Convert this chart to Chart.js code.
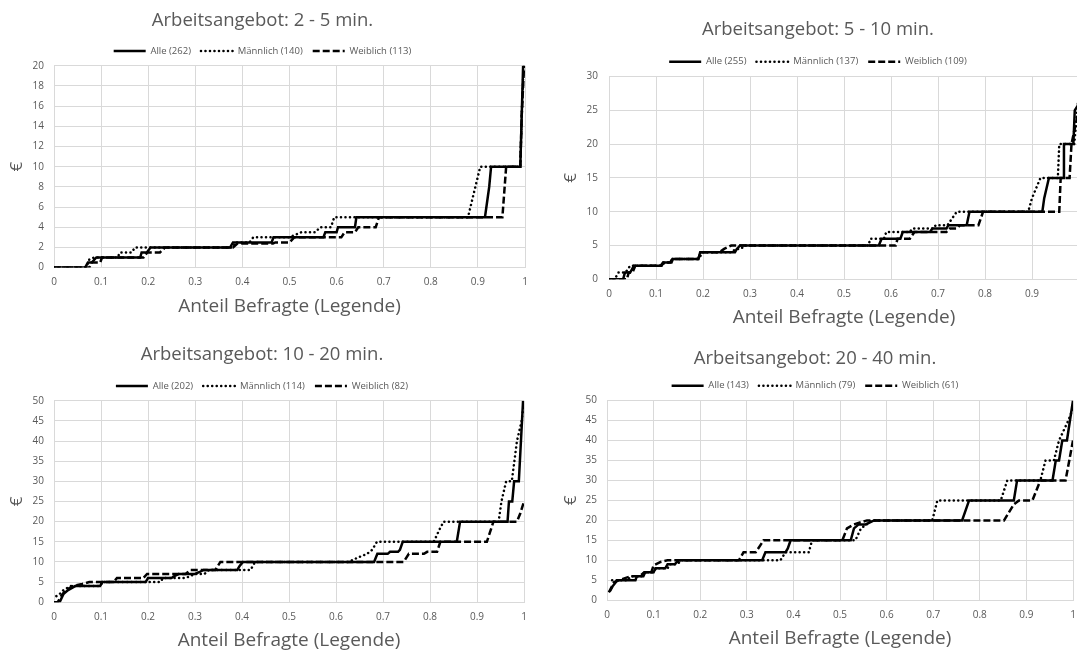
<!DOCTYPE html>
<html lang="de">
<head>
<meta charset="utf-8">
<title>Arbeitsangebot</title>
<script src="https://cdn.jsdelivr.net/npm/chart.js@4.4.0/dist/chart.umd.min.js"></script>
<style>
  html, body { margin: 0; padding: 0; background: #fff; }
  #wrap { position: relative; width: 1077px; height: 651px; overflow: hidden; background: #fff; }
  #wrap canvas { position: absolute; }
</style>
</head>
<body>
<div id="wrap">
  <canvas id="c1" width="540" height="318" style="left:0px;top:0px"></canvas>
  <canvas id="c2" width="540" height="329" style="left:557px;top:0px"></canvas>
  <canvas id="c3" width="540" height="322" style="left:0px;top:330px"></canvas>
  <canvas id="c4" width="540" height="320" style="left:557px;top:330px"></canvas>
</div>
<script>
// Serien-Namen und Stichprobengrößen
const seriesNames = ['Alle', 'Männlich', 'Weiblich'];
const p1Counts = [262, 140, 113];
const p2Counts = [255, 137, 109];
const p3Counts = [202, 114, 82];
const p4Counts = [143, 79, 61];

const panelTitles = [
    'Arbeitsangebot: 2 - 5 min.',
    'Arbeitsangebot: 5 - 10 min.',
    'Arbeitsangebot: 10 - 20 min.',
    'Arbeitsangebot: 20 - 40 min.'
];
const yMaxes = [20, 30, 50, 50];
const ySteps = [2, 5, 5, 5];

// 2 - 5 min.
const p1AlleX = [0, 0.066, 0.072, 0.08, 0.09, 0.183, 0.186, 0.197, 0.205, 0.374, 0.38, 0.462, 0.466, 0.572, 0.576, 0.6, 0.603, 0.639, 0.642, 0.915, 0.921, 0.924, 0.928, 0.99, 0.993, 0.996];
const p1AlleY = [0, 0, 0.5, 0.5, 1, 1, 1.5, 1.5, 2, 2, 2.5, 2.5, 3, 3, 3.5, 3.5, 4, 4, 5, 5, 7, 8, 10, 10, 15, 20];
const p1MaennX = [0, 0.068, 0.075, 0.085, 0.135, 0.14, 0.165, 0.172, 0.38, 0.385, 0.415, 0.423, 0.5, 0.525, 0.555, 0.565, 0.588, 0.595, 0.879, 0.905, 0.99, 0.993, 0.997];
const p1MaennY = [0, 0, 0.8, 1, 1, 1.5, 1.5, 2, 2, 2.5, 2.5, 3, 3, 3.5, 3.5, 4, 4, 5, 5, 10, 10, 15, 20];
const p1WeibX = [0, 0.075, 0.08, 0.098, 0.102, 0.19, 0.198, 0.225, 0.236, 0.38, 0.39, 0.465, 0.47, 0.5, 0.51, 0.61, 0.617, 0.639, 0.646, 0.683, 0.69, 0.952, 0.96, 0.99, 0.993, 0.998];
const p1WeibY = [0, 0, 0.5, 0.5, 1, 1, 1.5, 1.5, 2, 2, 2.4, 2.4, 2.5, 2.5, 3, 3, 3.5, 3.5, 4, 4, 5, 5, 10, 10, 15, 20];

// 5 - 10 min.
const p2AlleX = [0, 0.03, 0.034, 0.045, 0.053, 0.112, 0.116, 0.133, 0.136, 0.19, 0.194, 0.268, 0.272, 0.279, 0.574, 0.58, 0.62, 0.625, 0.683, 0.688, 0.718, 0.722, 0.761, 0.767, 0.922, 0.926, 0.936, 0.966, 0.968, 0.988, 0.991, 1];
const p2AlleY = [0, 0, 1, 1, 2, 2, 2.5, 2.5, 3, 3, 4, 4, 4.5, 5, 5, 6, 6, 7, 7, 7.5, 7.5, 8, 8, 10, 10, 12, 15, 15, 20, 20, 25, 26];
const p2MaennX = [0, 0.012, 0.02, 0.035, 0.045, 0.11, 0.12, 0.13, 0.135, 0.19, 0.2, 0.26, 0.27, 0.28, 0.29, 0.552, 0.556, 0.585, 0.59, 0.64, 0.645, 0.69, 0.695, 0.72, 0.74, 0.892, 0.9, 0.918, 0.955, 0.958, 0.99, 1];
const p2MaennY = [0, 0, 1, 1, 2, 2, 2.5, 2.5, 3, 3, 4, 4, 4.5, 4.5, 5, 5, 6, 6, 7, 7, 7.5, 7.5, 8, 8, 10, 10, 12, 15, 15, 20, 20, 28];
const p2WeibX = [0, 0.038, 0.042, 0.05, 0.056, 0.11, 0.115, 0.13, 0.135, 0.19, 0.195, 0.235, 0.245, 0.26, 0.61, 0.614, 0.64, 0.65, 0.718, 0.725, 0.74, 0.747, 0.786, 0.796, 0.958, 0.961, 0.98, 0.984, 0.99, 1];
const p2WeibY = [0, 0, 1, 1, 2, 2, 2.5, 2.5, 3, 3, 4, 4, 4.5, 5, 5, 6, 6, 7, 7, 7.5, 7.5, 8, 8, 10, 10, 15, 15, 20, 22, 25];

// 10 - 20 min.
const p3AlleX = [0, 0.012, 0.02, 0.03, 0.045, 0.098, 0.103, 0.195, 0.2, 0.25, 0.256, 0.265, 0.3, 0.31, 0.318, 0.39, 0.395, 0.402, 0.681, 0.688, 0.71, 0.715, 0.732, 0.736, 0.742, 0.857, 0.864, 0.965, 0.968, 0.975, 0.979, 0.989, 0.998];
const p3AlleY = [0, 0, 2, 3, 4, 4, 5, 5, 6, 6, 6.5, 7, 7, 7.5, 8, 8, 9, 10, 10, 12, 12, 12.5, 12.5, 13, 15, 15, 20, 20, 25, 25, 30, 30, 50];
const p3MaennX = [0.005, 0.012, 0.02, 0.035, 0.098, 0.103, 0.226, 0.232, 0.28, 0.29, 0.3, 0.32, 0.33, 0.418, 0.428, 0.627, 0.645, 0.666, 0.677, 0.687, 0.808, 0.82, 0.829, 0.946, 0.952, 0.962, 0.974, 0.985, 0.995, 1];
const p3MaennY = [1.5, 2, 3, 4, 4, 5, 5, 6, 6, 6.5, 7, 7, 8, 8, 10, 10, 11, 12, 13, 15, 15, 18, 20, 20, 25, 30, 30, 40, 45, 50];
const p3WeibX = [0, 0.008, 0.015, 0.025, 0.04, 0.06, 0.075, 0.127, 0.134, 0.19, 0.198, 0.28, 0.29, 0.343, 0.354, 0.744, 0.755, 0.787, 0.794, 0.815, 0.822, 0.921, 0.935, 0.985, 0.992, 1];
const p3WeibY = [0, 0, 1.5, 3, 4, 4.5, 5, 5, 6, 6, 7, 7, 8, 8, 10, 10, 12, 12, 12.5, 12.5, 15, 15, 20, 20, 22, 25];

// 20 - 40 min.
const p4AlleX = [0.006, 0.012, 0.018, 0.022, 0.061, 0.064, 0.078, 0.082, 0.1, 0.104, 0.125, 0.13, 0.145, 0.154, 0.333, 0.34, 0.383, 0.388, 0.394, 0.523, 0.53, 0.54, 0.555, 0.573, 0.762, 0.777, 0.873, 0.88, 0.956, 0.963, 0.97, 0.977, 0.987, 1];
const p4AlleY = [2.2, 3.5, 4.4, 5, 5, 6, 6, 7, 7, 8, 8, 9, 9, 10, 10, 12, 12, 13, 15, 15, 18, 19, 19, 20, 20, 25, 25, 30, 30, 35, 35, 40, 40, 50];
const p4MaennX = [0.011, 0.045, 0.05, 0.075, 0.08, 0.1, 0.105, 0.13, 0.135, 0.15, 0.16, 0.372, 0.383, 0.433, 0.44, 0.533, 0.545, 0.569, 0.698, 0.709, 0.845, 0.859, 0.93, 0.941, 0.959, 0.97, 0.99, 1];
const p4MaennY = [5, 5, 6, 6, 7, 7, 8, 8, 9, 9, 10, 10, 12, 12, 15, 15, 18, 20, 20, 25, 25, 30, 30, 35, 35, 40, 45, 48];
const p4WeibX = [0.004, 0.015, 0.025, 0.05, 0.07, 0.08, 0.095, 0.1, 0.115, 0.13, 0.283, 0.293, 0.319, 0.336, 0.505, 0.515, 0.53, 0.558, 0.852, 0.873, 0.884, 0.913, 0.93, 0.984, 0.992, 1];
const p4WeibY = [2, 4.5, 5, 6, 6, 7, 7, 8.7, 9.6, 10, 10, 12, 12, 15, 15, 18, 19, 20, 20, 24, 25, 25, 30, 30, 35, 40];

const textColor = '#595959';
const gridColor = '#d9d9d9';
Chart.defaults.font.family = "'Open Sans', sans-serif";
Chart.defaults.color = textColor;

// Linienstile: durchgezogen, gepunktet, gestrichelt
const lineStyles = [
    { borderDash: [], borderCapStyle: 'butt' },
    { borderDash: [0.1, 4.4], borderCapStyle: 'round' },
    { borderDash: [7, 3], borderCapStyle: 'butt' }
];

function toPoints(xs, ys) {
    return xs.map((x, i) => ({ x: x, y: ys[i] }));
}

// Layout je Diagramm (Abstände in Pixeln)
const layouts = [
    { titleTop: 9.9, titleBottom: 4.2, yWidth: 54, xHeight: 50.4, rightPad: 15, yTitlePad: 8, yTickPad: 10 },
    { titleTop: 18.9, titleBottom: 5.9, yWidth: 52, xHeight: 49.7, rightPad: 18, yTitlePad: 5, yTickPad: 11 },
    { titleTop: 13.9, titleBottom: 5.2, yWidth: 54, xHeight: 49.8, rightPad: 16, yTitlePad: 8, yTickPad: 10 },
    { titleTop: 17.2, titleBottom: 1.6, yWidth: 50, xHeight: 49.7, rightPad: 24, yTitlePad: 5, yTickPad: 10 }
];

function makePanel(canvasId, index, counts, series) {
    const lay = layouts[index];
    const datasets = series.map((s, i) => ({
        label: seriesNames[i] + ' (' + counts[i] + ')',
        data: toPoints(s[0], s[1]),
        borderColor: '#000',
        backgroundColor: '#000',
        borderWidth: 2.5,
        borderDash: lineStyles[i].borderDash,
        borderCapStyle: lineStyles[i].borderCapStyle,
        borderJoinStyle: 'miter',
        pointRadius: 0,
        tension: 0,
        fill: false
    }));

    new Chart(document.getElementById(canvasId).getContext('2d'), {
        type: 'line',
        data: { datasets: datasets },
        options: {
            responsive: false,
            animation: false,
            devicePixelRatio: 1,
            layout: { padding: { left: 0, right: lay.rightPad, top: 0, bottom: 0 } },
            plugins: {
                title: {
                    display: true,
                    text: panelTitles[index],
                    color: textColor,
                    font: { size: 18.5, weight: 'normal' },
                    padding: { top: lay.titleTop, bottom: lay.titleBottom }
                },
                legend: {
                    position: 'top',
                    labels: {
                        usePointStyle: true,
                        pointStyleWidth: 32,
                        padding: 10,
                        color: textColor,
                        font: { size: 9.5 },
                        generateLabels: function(chart) {
                            return chart.data.datasets.map((ds, i) => ({
                                text: ds.label,
                                fillStyle: 'rgba(0,0,0,0)',
                                strokeStyle: ds.borderColor,
                                lineWidth: ds.borderWidth,
                                lineDash: ds.borderDash,
                                lineCap: ds.borderCapStyle,
                                pointStyle: 'line',
                                fontColor: textColor,
                                hidden: false,
                                datasetIndex: i
                            }));
                        }
                    }
                },
                tooltip: { enabled: false }
            },
            scales: {
                x: {
                    type: 'linear',
                    min: 0,
                    max: 1,
                    grid: { color: gridColor, drawTicks: false },
                    border: { color: gridColor },
                    ticks: {
                        stepSize: 0.1,
                        autoSkip: false,
                        maxRotation: 0,
                        padding: 9,
                        color: textColor,
                        font: { size: 10 },
                        callback: v => String(Math.round(v * 10) / 10)
                    },
                    title: {
                        display: true,
                        text: 'Anteil Befragte (Legende)',
                        color: textColor,
                        font: { size: 19 },
                        padding: 0
                    },
                    afterFit: scale => { scale.height = lay.xHeight; }
                },
                y: {
                    min: 0,
                    max: yMaxes[index],
                    grid: { color: gridColor, drawTicks: false },
                    border: { color: gridColor },
                    ticks: {
                        stepSize: ySteps[index],
                        padding: lay.yTickPad,
                        color: textColor,
                        font: { size: 10 }
                    },
                    title: {
                        display: true,
                        text: '€',
                        color: textColor,
                        font: { size: 17 },
                        padding: { top: lay.yTitlePad - 1, bottom: 0 }
                    },
                    afterFit: scale => { scale.width = lay.yWidth; }
                }
            }
        }
    });
}

makePanel('c1', 0, p1Counts, [[p1AlleX, p1AlleY], [p1MaennX, p1MaennY], [p1WeibX, p1WeibY]]);
makePanel('c2', 1, p2Counts, [[p2AlleX, p2AlleY], [p2MaennX, p2MaennY], [p2WeibX, p2WeibY]]);
makePanel('c3', 2, p3Counts, [[p3AlleX, p3AlleY], [p3MaennX, p3MaennY], [p3WeibX, p3WeibY]]);
makePanel('c4', 3, p4Counts, [[p4AlleX, p4AlleY], [p4MaennX, p4MaennY], [p4WeibX, p4WeibY]]);
</script>
</body>
</html>
